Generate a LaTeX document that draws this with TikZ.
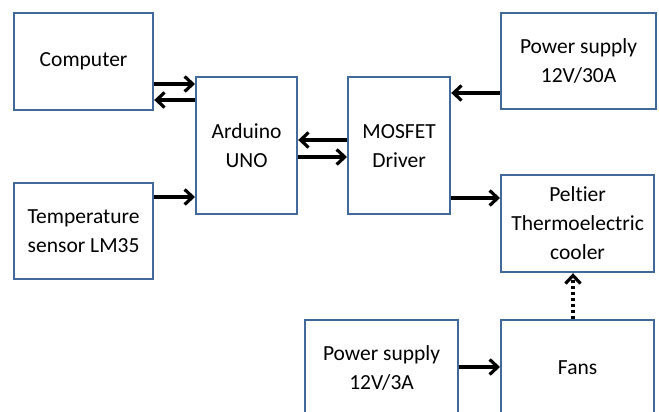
\documentclass[tikz,border=0pt]{standalone}
\usepackage{fontspec}
\setmainfont{Carlito}[Ligatures=NoCommon]
\usetikzlibrary{arrows.meta}
\definecolor{boxline}{HTML}{41699A}
\begin{document}
\begin{tikzpicture}[x=1pt,y=-1pt,
  box/.style={draw=boxline, line width=2.2pt, fill=white, anchor=north west, align=center,
    font=\fontsize{21.5}{29}\selectfont, inner sep=0pt},
  arr/.style={line width=3.2pt, -{Straight Barb[length=8pt,width=15pt,line width=3.2pt]}}]
\useasboundingbox (0,0) rectangle (659,412);
\fill[white] (0,0) rectangle (659,412);
\node[box, minimum width=139pt, minimum height=97pt] (comp) at (13,12) {Computer};
\node[box, minimum width=139pt, minimum height=96pt] (temp) at (13,182) {Temperature\\sensor LM35};
\node[box, minimum width=101pt, minimum height=137pt] (ard) at (195,76) {Arduino\\UNO};
\node[box, minimum width=102pt, minimum height=137pt] (mos) at (347,76) {MOSFET\\Driver};
\node[box, minimum width=155pt, minimum height=96pt] (ps1) at (500,12) {Power supply\\12V/30A};
\node[box, minimum width=153pt, minimum height=97pt] (pel) at (500,174) {Peltier\\Thermoelectric\\cooler};
\node[box, minimum width=153pt, minimum height=96pt] (ps2) at (304,319) {Power supply\\12V/3A};
\node[box, minimum width=153pt, minimum height=96pt] (fans) at (500,319) {Fans};
\draw[arr] (comp.east |- 0,84) -- (ard.west |- 0,84);
\draw[arr] (ard.west |- 0,100) -- (comp.east |- 0,100);
\draw[arr] (temp.east |- 0,197) -- (ard.west |- 0,197);
\draw[arr] (mos.west |- 0,140) -- (ard.east |- 0,140);
\draw[arr] (ard.east |- 0,157) -- (mos.west |- 0,157);
\draw[arr] (ps1.west |- 0,93) -- (mos.east |- 0,93);
\draw[arr] (mos.east |- 0,198) -- (pel.west |- 0,198);
\draw[arr] (ps2.east |- 0,367) -- (fans.west |- 0,367);
\draw[arr, dash pattern=on 3pt off 3pt] (fans.north -| 573,0) -- (pel.south -| 573,0);
\end{tikzpicture}
\end{document}
